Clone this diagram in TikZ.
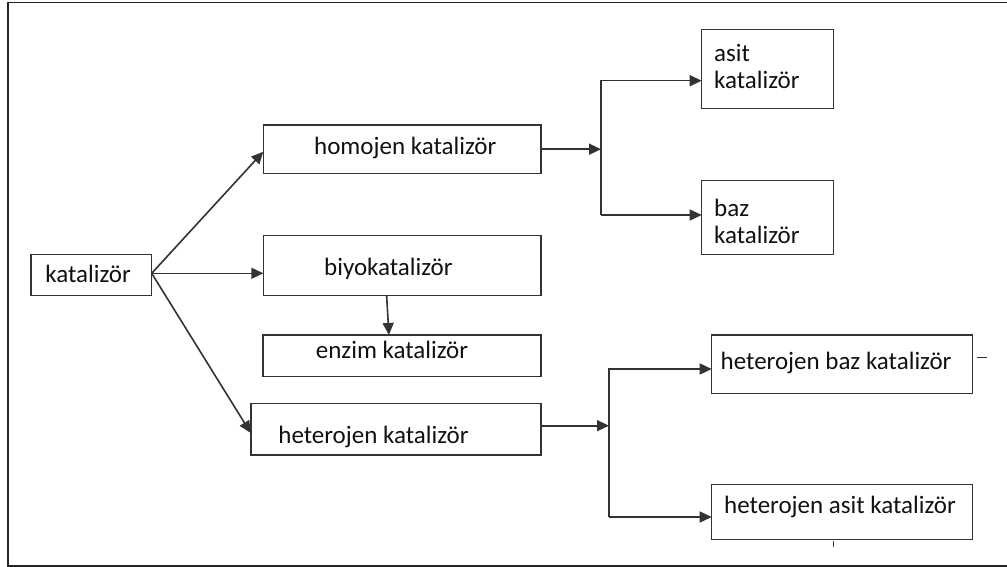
\documentclass[tikz,border=0pt]{standalone}
\usepackage{fontspec}
\setmainfont{Carlito}
\usetikzlibrary{arrows.meta,calc}
\definecolor{linegray}{HTML}{333333}
\definecolor{txtcol}{HTML}{111111}
\newcommand{\boxtxt}[3]{\raisebox{#2pt}[0pt][0pt]{\makebox[0pt][l]{\hspace*{#1pt}#3}}}
\begin{document}
\begin{tikzpicture}[x=1pt,y=-1pt,
  catbox/.style={draw=linegray, line width=1.5pt, inner sep=0pt, outer sep=0pt,
    font=\fontsize{25}{30}\selectfont, text=txtcol},
  arr/.style={draw=linegray, line width=1.6pt, -{Triangle[length=12pt,width=11pt]}},
  stub/.style={draw=linegray, line width=1.1pt},
  frameline/.style={draw=black!85, line width=1.8pt}]
\useasboundingbox (0,0) rectangle (1007,567);
\draw[frameline] (1007,2.5) -- (8,2.5) -- (8,566) -- (1007,566);

% boxes
\node[catbox, minimum width=120.7pt, minimum height=41.4pt] (kat) at (91.35,275)
  {\boxtxt{-46}{-7.7}{katalizör}};
\node[catbox, minimum width=277.7pt, minimum height=48.3pt] (homo) at (402.15,149.2)
  {\boxtxt{-88}{-5.8}{homojen katalizör}};
\node[catbox, minimum width=277.7pt, minimum height=60.2pt] (biyo) at (402.15,265.6)
  {\boxtxt{-78}{-9.4}{biyokatalizör}};
\node[catbox, minimum width=278.3pt, minimum height=41.7pt] (enzim) at (401.9,355.8)
  {\boxtxt{-86}{-2.5}{enzim katalizör}};
\node[catbox, minimum width=290.3pt, minimum height=51.7pt] (hetkat) at (395.9,429.2)
  {\boxtxt{-117.5}{-14.1}{heterojen katalizör}};
\node[catbox, minimum width=132pt, minimum height=79pt] (asit) at (767.7,68.8)
  {\boxtxt{-53.5}{7.1}{asit}\boxtxt{-53.5}{-19.5}{katalizör}};
\node[catbox, minimum width=132pt, minimum height=74.4pt] (baz) at (767.7,217.5)
  {\boxtxt{-53.5}{0.8}{baz}\boxtxt{-53.5}{-25.8}{katalizör}};
\node[catbox, minimum width=261pt, minimum height=58.3pt] (hbaz) at (842.2,364.2)
  {\boxtxt{-121.5}{-4.8}{heterojen baz katalizör}};
\node[catbox, minimum width=261pt, minimum height=55pt] (hasit) at (842.2,511.8)
  {\boxtxt{-118}{-1.5}{heterojen asit katalizör}};

% connector points
\coordinate (ko) at ($(kat.east)+(0,-1.7)$);
\coordinate (homoin) at ($(homo.west)+(0,2.5)$);
\coordinate (hetin) at ($(hetkat.west)+(0,3.8)$);
\coordinate (biyoout) at ($(biyo.south)+(-15.5,0)$);
\coordinate (enzimin) at ($(enzim.north)+(-13,0)$);
\coordinate (hetout) at ($(hetkat.east)+(0,-3.5)$);
\coordinate (a1) at (601,80.7);
\coordinate (b1) at (601,215);
\coordinate (a2) at (609,369);
\coordinate (b2) at (609,517);

% connectors from katalizör
\draw[arr] (ko) -- (homoin);
\draw[arr] (ko) -- (ko -| biyo.west);
\draw[arr] (ko) -- (hetin);

% biyokatalizör -> enzim
\draw[arr] (biyoout) -- (enzimin);

% homojen branch
\draw[arr] (homo.east) -- (homo.east -| a1);
\draw[arr] (b1) -- (a1) -- (a1 -| asit.west);
\draw[arr] (b1) -- (b1 -| baz.west);

% heterojen branch
\draw[arr] (hetout) -- (hetout -| a2);
\draw[arr] (b2) -- (a2) -- (a2 -| hbaz.west);
\draw[arr] (b2) -- (b2 -| hasit.west);

% small stubs
\coordinate (t1) at ($(hbaz.east)+(4,-6.5)$);
\draw[stub] (t1) -- ++(10,0);
\coordinate (t2) at ($(hasit.south)+(-8.9,2)$);
\draw[stub] (t2) -- ++(0,6);
\end{tikzpicture}
\end{document}
